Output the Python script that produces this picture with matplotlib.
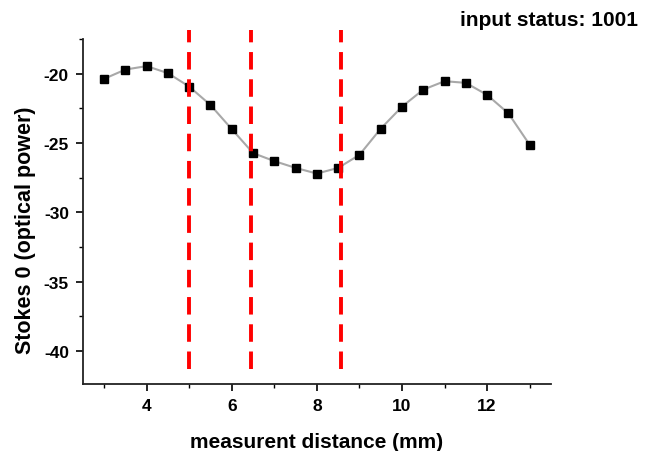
import numpy as np
import matplotlib.pyplot as plt
from matplotlib.ticker import MultipleLocator

# measured Stokes 0 values along the sample
distance = [3, 3.5, 4, 4.5, 5, 5.5, 6, 6.5, 7, 7.5, 8, 8.5,
            9, 9.5, 10, 10.5, 11, 11.5, 12, 12.5, 13]
stokes0 = [-20.36, -19.69, -19.44, -19.95, -20.92, -22.25, -23.99, -25.72,
           -26.30, -26.79, -27.20, -26.79, -25.85, -23.96, -22.37, -21.14,
           -20.53, -20.65, -21.52, -22.85, -25.12]

# boundaries marked with red dashed lines
boundaries = [5.0, 6.45, 8.56]

plt.rcParams['font.family'] = ['Liberation Sans', 'DejaVu Sans']
plt.rcParams['font.weight'] = 'bold'
plt.rcParams['axes.unicode_minus'] = False

fig = plt.figure(figsize=(6.52, 4.52), dpi=100)
ax = fig.add_axes([0.127, 0.148, 0.718, 0.763])

ax.plot(distance, stokes0, color='#a8a8a8', linewidth=1.5, zorder=2)
ax.plot(distance, stokes0, linestyle='none', marker='s', markersize=6,
        color='black', zorder=3)

for b in boundaries:
    ax.plot([b, b], [-41.3, -16.8], color='#ff0000', linewidth=2.8,
            linestyle=(0, (4.5, 2.5)), clip_on=False, zorder=4)

ax.set_xlim(2.5, 13.5)
ax.set_ylim(-42.4, -17.5)
ax.yaxis.set_major_locator(MultipleLocator(5))
ax.yaxis.set_minor_locator(MultipleLocator(2.5))
ax.set_xticks([4, 6, 8, 10, 12])
ax.set_xticks([3, 5, 7, 9, 11, 13], minor=True)

for s in ['top', 'right']:
    ax.spines[s].set_visible(False)
for s in ['left', 'bottom']:
    ax.spines[s].set_linewidth(1.3)
    ax.spines[s].set_color('#222222')

ax.tick_params(axis='both', which='major', length=5, width=1.2,
               labelsize=12.5, pad=5)
ax.tick_params(axis='both', which='minor', length=3, width=1.0)

ax.set_xlabel('measurent distance (mm)', fontsize=15, fontweight='bold',
              labelpad=14)
ax.set_ylabel('Stokes 0 (optical power)', fontsize=15.5, fontweight='bold')
ax.yaxis.set_label_coords(-0.10, 0.45)

fig.text(0.978, 0.955, 'input status: 1001', ha='right', va='center',
         fontsize=15, fontweight='bold')

fig.savefig('out.png', dpi=100)
